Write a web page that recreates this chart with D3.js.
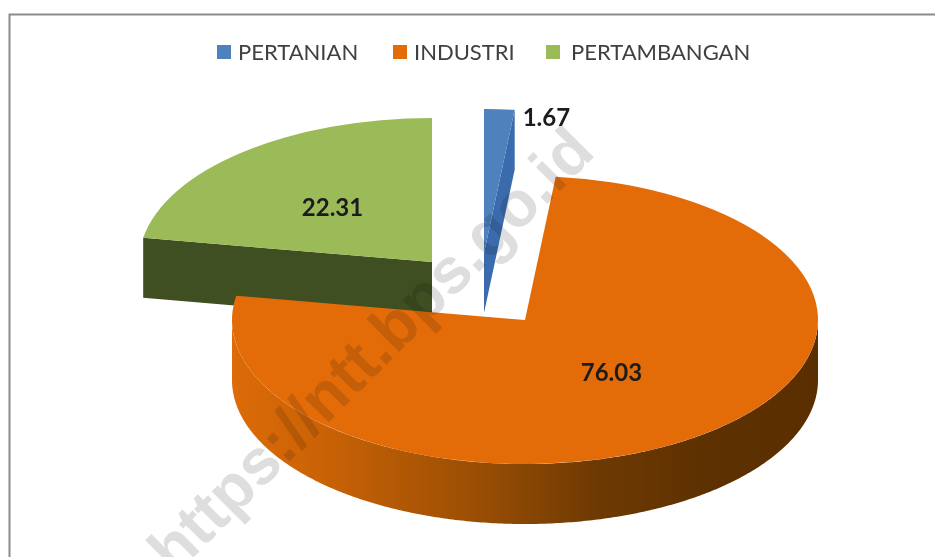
<!DOCTYPE html>
<html>
<head>
<meta charset="utf-8">
<script src="https://cdn.jsdelivr.net/npm/d3@7"></script>
<style>
  html, body { margin: 0; background: #fff; overflow: hidden; }
  svg { display: block; filter: blur(0.6px); }
  text { font-family: Lato, "Open Sans", sans-serif; }
</style>
</head>
<body>
<svg id="chart" width="935" height="557"></svg>
<script>
const categories = ['PERTANIAN', 'INDUSTRI', 'PERTAMBANGAN'];
const values = [1.67, 76.03, 22.31];
const topColors = ['#4f81bd', '#e36c09', '#9bbb59'];
const cutColors = ['#3a6cad', '#a0520a', '#3f4f21'];

// where each exploded slice has its tip, and the legend layout
const sliceTips = [[484, 253], [525, 320], [432, 262]];
const legendSwatchX = [217, 393, 546];
const legendTextX = [238, 414, 571];
const labelShift = [[47, 8], [-2, -5], [-5, 1]];

// shading along the front wall of the big slice
const wallStops = [
  [0, '#dc6b08'], [0.16, '#c96206'], [0.42, '#9a4e04'],
  [0.62, '#6e3a03'], [0.8, '#5e3101'], [1, '#5a2e00']
];

const width = 935, height = 557;
const rx = 293, ry = 144, depth = 60;

const svg = d3.select('#chart');

// frame, only top and left show up in the picture
svg.append('path')
  .attr('d', `M9.5,${height}V14.5H${width}`)
  .attr('fill', 'none')
  .attr('stroke', '#8c8c8c')
  .attr('stroke-width', 2);

// legend
const legend = svg.selectAll('g.legend')
    .data(categories)
  .enter().append('g')
    .attr('class', 'legend');

legend.append('rect')
  .attr('x', (d, i) => legendSwatchX[i])
  .attr('y', 45)
  .attr('width', 14)
  .attr('height', 14)
  .attr('fill', (d, i) => topColors[i]);

legend.append('text')
  .attr('x', (d, i) => legendTextX[i])
  .attr('y', 52)
  .attr('dy', '0.35em')
  .attr('font-size', 22)
  .attr('fill', '#404040')
  .text(d => d);

const grad = svg.append('defs').append('linearGradient')
  .attr('id', 'wall')
  .attr('gradientUnits', 'userSpaceOnUse')
  .attr('x1', sliceTips[1][0] - rx)
  .attr('x2', sliceTips[1][0] + rx)
  .attr('y1', 0)
  .attr('y2', 0);

grad.selectAll('stop')
    .data(wallStops)
  .enter().append('stop')
    .attr('offset', d => d[0])
    .attr('stop-color', d => d[1]);

// d3.pie angles run clockwise from 12 o'clock, same as the original
const slices = d3.pie().sort(null)(values);
const arc = d3.arc().innerRadius(0).outerRadius(rx);

const px = (s, a) => sliceTips[s][0] + rx * Math.sin(a);
const py = (s, a) => sliceTips[s][1] - ry * Math.cos(a);

const wallArea = i => d3.area()
  .x(a => px(i, a))
  .y0(a => py(i, a))
  .y1(a => py(i, a) + depth);

// the cut face that looks at the viewer
const cutFace = (i, a) => {
  const [x, y] = sliceTips[i];
  return d3.line()([
    [x, y], [px(i, a), py(i, a)],
    [px(i, a), py(i, a) + depth], [x, y + depth]
  ]);
};

// back to front so the big slice covers the green wall
[2, 0, 1].forEach(i => {
  const s = slices[i];
  const g = svg.append('g');

  if (i === 1) {
    const frontAngles = d3.range(Math.PI / 2, Math.PI * 1.5 + 0.005, 0.01);
    g.append('path')
      .attr('d', wallArea(i)(frontAngles))
      .attr('fill', 'url(#wall)');
  }
  if (i === 0) {
    g.append('path').attr('d', cutFace(i, s.endAngle)).attr('fill', cutColors[i]);
  }
  if (i === 2) {
    g.append('path').attr('d', cutFace(i, s.startAngle)).attr('fill', cutColors[i]);
  }

  g.append('path')
    .attr('d', arc(s))
    .attr('transform', `translate(${sliceTips[i]}) scale(1,${ry / rx})`)
    .attr('fill', topColors[i]);
});

// value labels
svg.selectAll('text.value')
    .data(slices)
  .enter().append('text')
    .attr('class', 'value')
    .attr('x', (d, i) => {
      const c = arc.centroid(d);
      return sliceTips[i][0] + c[0] * (i === 0 ? 2 : 1) + labelShift[i][0];
    })
    .attr('y', (d, i) => {
      const c = arc.centroid(d);
      return sliceTips[i][1] + c[1] * (i === 0 ? 2 : 1) * ry / rx + labelShift[i][1];
    })
    .attr('dy', '0.35em')
    .attr('text-anchor', 'middle')
    .attr('font-size', 24)
    .attr('font-weight', 700)
    .attr('fill', '#1c1c1c')
    .text(d => d.value.toFixed(2));

// watermark, multiply so it darkens the orange the way the original does
svg.append('text')
  .attr('transform', 'translate(597,154) rotate(-45)')
  .attr('text-anchor', 'end')
  .attr('font-size', 64)
  .attr('font-weight', 700)
  .style('font-family', '"Liberation Sans", sans-serif')
  .style('mix-blend-mode', 'multiply')
  .attr('fill', '#dedede')
  .text('https://ntt.bps.go.id');
</script>
</body>
</html>
